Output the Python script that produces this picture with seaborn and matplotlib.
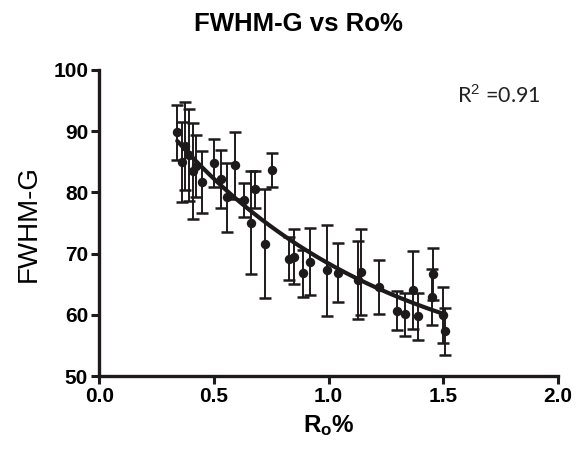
import numpy as np
import pandas as pd
import matplotlib
matplotlib.use("Agg")
import matplotlib.pyplot as plt
import seaborn as sns

# ---- data ----
ro = [0.340, 0.362, 0.376, 0.391, 0.407, 0.421, 0.449, 0.501, 0.529, 0.559, 0.590,
      0.631, 0.660, 0.680, 0.721, 0.753, 0.828, 0.850, 0.889, 0.921, 0.991, 1.040,
      1.126, 1.140, 1.220, 1.300, 1.332, 1.366, 1.390, 1.451, 1.454, 1.500, 1.508]
fwhm = [89.8, 85.0, 87.6, 86.1, 83.5, 84.3, 81.7, 84.75, 82.2, 79.2, 84.4,
        78.8, 75.05, 80.5, 71.6, 83.7, 69.2, 69.5, 66.8, 68.7, 67.3, 66.9,
        65.7, 67.0, 64.6, 60.7, 60.1, 64.05, 59.75, 62.96, 66.7, 60.0, 57.3]
err = [4.5, 6.5, 7.2, 7.5, 7.8, 5.0, 5.0, 3.9, 4.7, 5.6, 5.5,
       2.75, 8.4, 3.0, 8.9, 2.8, 3.5, 4.5, 3.8, 5.5, 7.4, 4.8,
       6.3, 7.0, 4.4, 3.2, 3.5, 6.3, 3.9, 4.6, 4.3, 4.6, 3.9]
x_ticks = [0.0, 0.5, 1.0, 1.5, 2.0]
y_ticks = [50, 60, 70, 80, 90, 100]
r2_text = "R$^2$ =0.91"

df = pd.DataFrame({"ro": ro, "fwhm": fwhm, "err": err})

# one-phase exponential decay fit: y = c + a*exp(-k x)
xa = np.array(ro); ya = np.array(fwhm)
best = None
for k in np.linspace(0.1, 6, 600):
    A = np.vstack([np.ones_like(xa), np.exp(-k * xa)]).T
    coef, res, *_ = np.linalg.lstsq(A, ya, rcond=None)
    sse = np.sum((A @ coef - ya) ** 2)
    if best is None or sse < best[0]:
        best = (sse, k, coef)
_, kk, cc = best
xf = np.linspace(min(ro), max(ro), 200)
fit = pd.DataFrame({"ro": xf, "fwhm": cc[0] + cc[1] * np.exp(-kk * xf)})

sns.set_theme(style="ticks")
plt.rcParams["font.family"] = ["Liberation Sans", "DejaVu Sans"]
plt.rcParams["mathtext.fontset"] = "custom"
plt.rcParams["mathtext.rm"] = "Liberation Sans"
plt.rcParams["mathtext.bf"] = "Liberation Sans:bold"

fig = plt.figure(figsize=(5.77, 4.51), dpi=100)
ax = fig.add_axes([0.172, 0.166, 0.795, 0.679])

dark = "#1e1a1b"
ax.errorbar(df["ro"], df["fwhm"], yerr=df["err"], fmt="none", ecolor=dark,
            elinewidth=1.4, capsize=4, capthick=1.8, zorder=2)
sns.scatterplot(data=df, x="ro", y="fwhm", ax=ax, color=dark, s=46,
                edgecolor=dark, linewidth=0, zorder=3)
sns.lineplot(data=fit, x="ro", y="fwhm", ax=ax, color=dark, linewidth=3.0, zorder=4)

ax.set_xlim(0, 2.0)
ax.set_ylim(50, 100)
ax.set_xticks(x_ticks)
ax.set_xticklabels([f"{t:.1f}" for t in x_ticks])
ax.set_yticks(y_ticks)
ax.set_yticklabels([str(t) for t in y_ticks])
for lab in ax.get_xticklabels() + ax.get_yticklabels():
    lab.set_fontweight("bold")
    lab.set_fontsize(15)
    lab.set_color("black")

sns.despine(ax=ax)
for s in ["left", "bottom"]:
    ax.spines[s].set_linewidth(2.4)
    ax.spines[s].set_color(dark)
ax.tick_params(direction="out", length=6, width=2.2, color=dark, pad=2)

ax.set_xlabel(r"$\mathbf{R_o}$%", fontsize=17.5, fontweight="bold", labelpad=5,
              color="black")
ax.set_ylabel("FWHM-G", fontsize=20, labelpad=8, color="black")
fig.text(0.518, 0.947, "FWHM-G vs Ro%", ha="center", va="center",
         fontsize=18.5, fontweight="bold", color="black")
ax.text(1.56, 94.6, r2_text, fontsize=15.5, va="baseline", ha="left",
        family=["Lato", "DejaVu Sans"], color="#222222")

fig.savefig("out.png", dpi=100)
